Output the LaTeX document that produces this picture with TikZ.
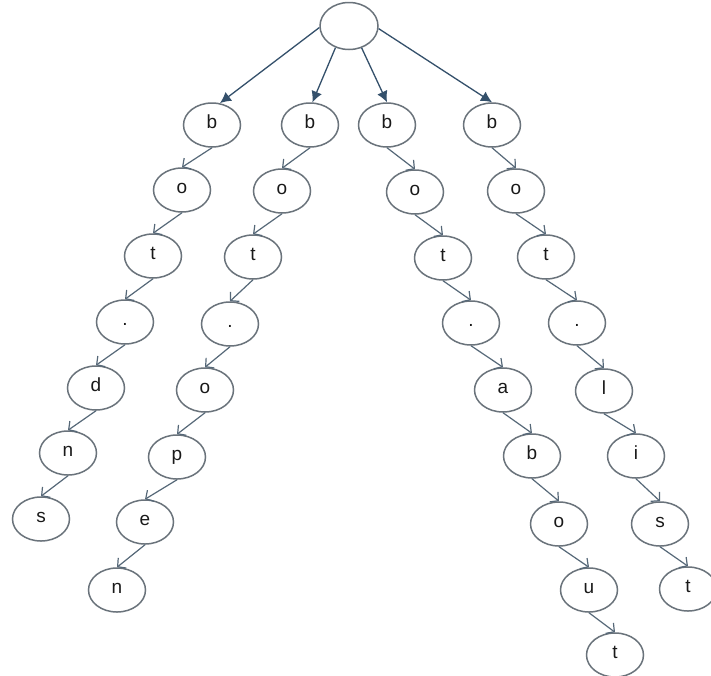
\documentclass[tikz,border=0pt]{standalone}
\usepackage{fontspec}
\setmainfont{Liberation Sans}
\usetikzlibrary{shapes.geometric,arrows.meta}
\definecolor{nodeline}{HTML}{6A737B}
\definecolor{edgeline}{HTML}{566878}
\definecolor{headfill}{HTML}{34506B}
\tikzset{
  letter/.style={ellipse, draw=nodeline, line width=1.5pt, minimum width=57pt, minimum height=44pt,
    inner sep=0pt, font=\fontsize{19}{19}\selectfont, text height=0.72em, text depth=0pt, text=black!90},
  rootnode/.style={ellipse, draw=nodeline, line width=1.5pt, minimum width=58pt, minimum height=47pt, inner sep=0pt},
  childedge/.style={draw=edgeline, line width=1.2pt, -{Straight Barb[length=6pt,width=13pt]}},
  rootedge/.style={draw=edgeline, line width=1.3pt, -{Latex[length=11pt,width=11pt,fill=headfill]}, headfill},
}
\begin{document}
\begin{tikzpicture}[x=1pt,y=-1pt]
\useasboundingbox[fill=white] (0,0) rectangle (711,675);
\node[rootnode] (root) at (349,26) {};
% branch 1
\node[letter] (a1) at (212,125) {b};
\node[letter] (a2) at (182,190) {o};
\node[letter] (a3) at (153,256) {t};
\node[letter] (a4) at (125,322) {.};
\node[letter] (a5) at (96,388) {d};
\node[letter] (a6) at (68,453) {n};
\node[letter] (a7) at (41,519) {s};
% branch 2
\node[letter] (b1) at (310,125) {b};
\node[letter] (b2) at (282,191) {o};
\node[letter] (b3) at (253,257) {t};
\node[letter] (b4) at (230,324) {.};
\node[letter] (b5) at (205,390) {o};
\node[letter] (b6) at (177,457) {p};
\node[letter] (b7) at (145,522) {e};
\node[letter] (b8) at (117,590) {n};
% branch 3
\node[letter] (c1) at (387,125) {b};
\node[letter] (c2) at (415,192) {o};
\node[letter] (c3) at (443,258) {t};
\node[letter] (c4) at (471,323) {.};
\node[letter] (c5) at (503,390) {a};
\node[letter] (c6) at (532,456) {b};
\node[letter] (c7) at (559,524) {o};
\node[letter] (c8) at (589,590) {u};
\node[letter] (c9) at (615,655) {t};
% branch 4
\node[letter] (d1) at (492,125) {b};
\node[letter] (d2) at (516,191) {o};
\node[letter] (d3) at (546,257) {t};
\node[letter] (d4) at (577,323) {.};
\node[letter] (d5) at (604,391) {l};
\node[letter] (d6) at (636,456) {i};
\node[letter] (d7) at (660,524) {s};
\node[letter] (d8) at (688,589) {t};
% root edges
\draw[rootedge] (root.183) -- (a1.70);
\draw[rootedge] (root.238) -- (b1.84);
\draw[rootedge] (root.300) -- (c1.90);
\draw[rootedge] (root.355) -- (d1.90);
% child edges
\foreach \p/\c in {a1/a2,a2/a3,a3/a4,a4/a5,a5/a6,a6/a7,
                   b1/b2,b2/b3,b3/b4,b4/b5,b5/b6,b6/b7,b7/b8,
                   c1/c2,c2/c3,c3/c4,c4/c5,c5/c6,c6/c7,c7/c8,c8/c9,
                   d1/d2,d2/d3,d3/d4,d4/d5,d5/d6,d6/d7,d7/d8}
  \draw[childedge] (\p.south) -- (\c.north);
\end{tikzpicture}
\end{document}
